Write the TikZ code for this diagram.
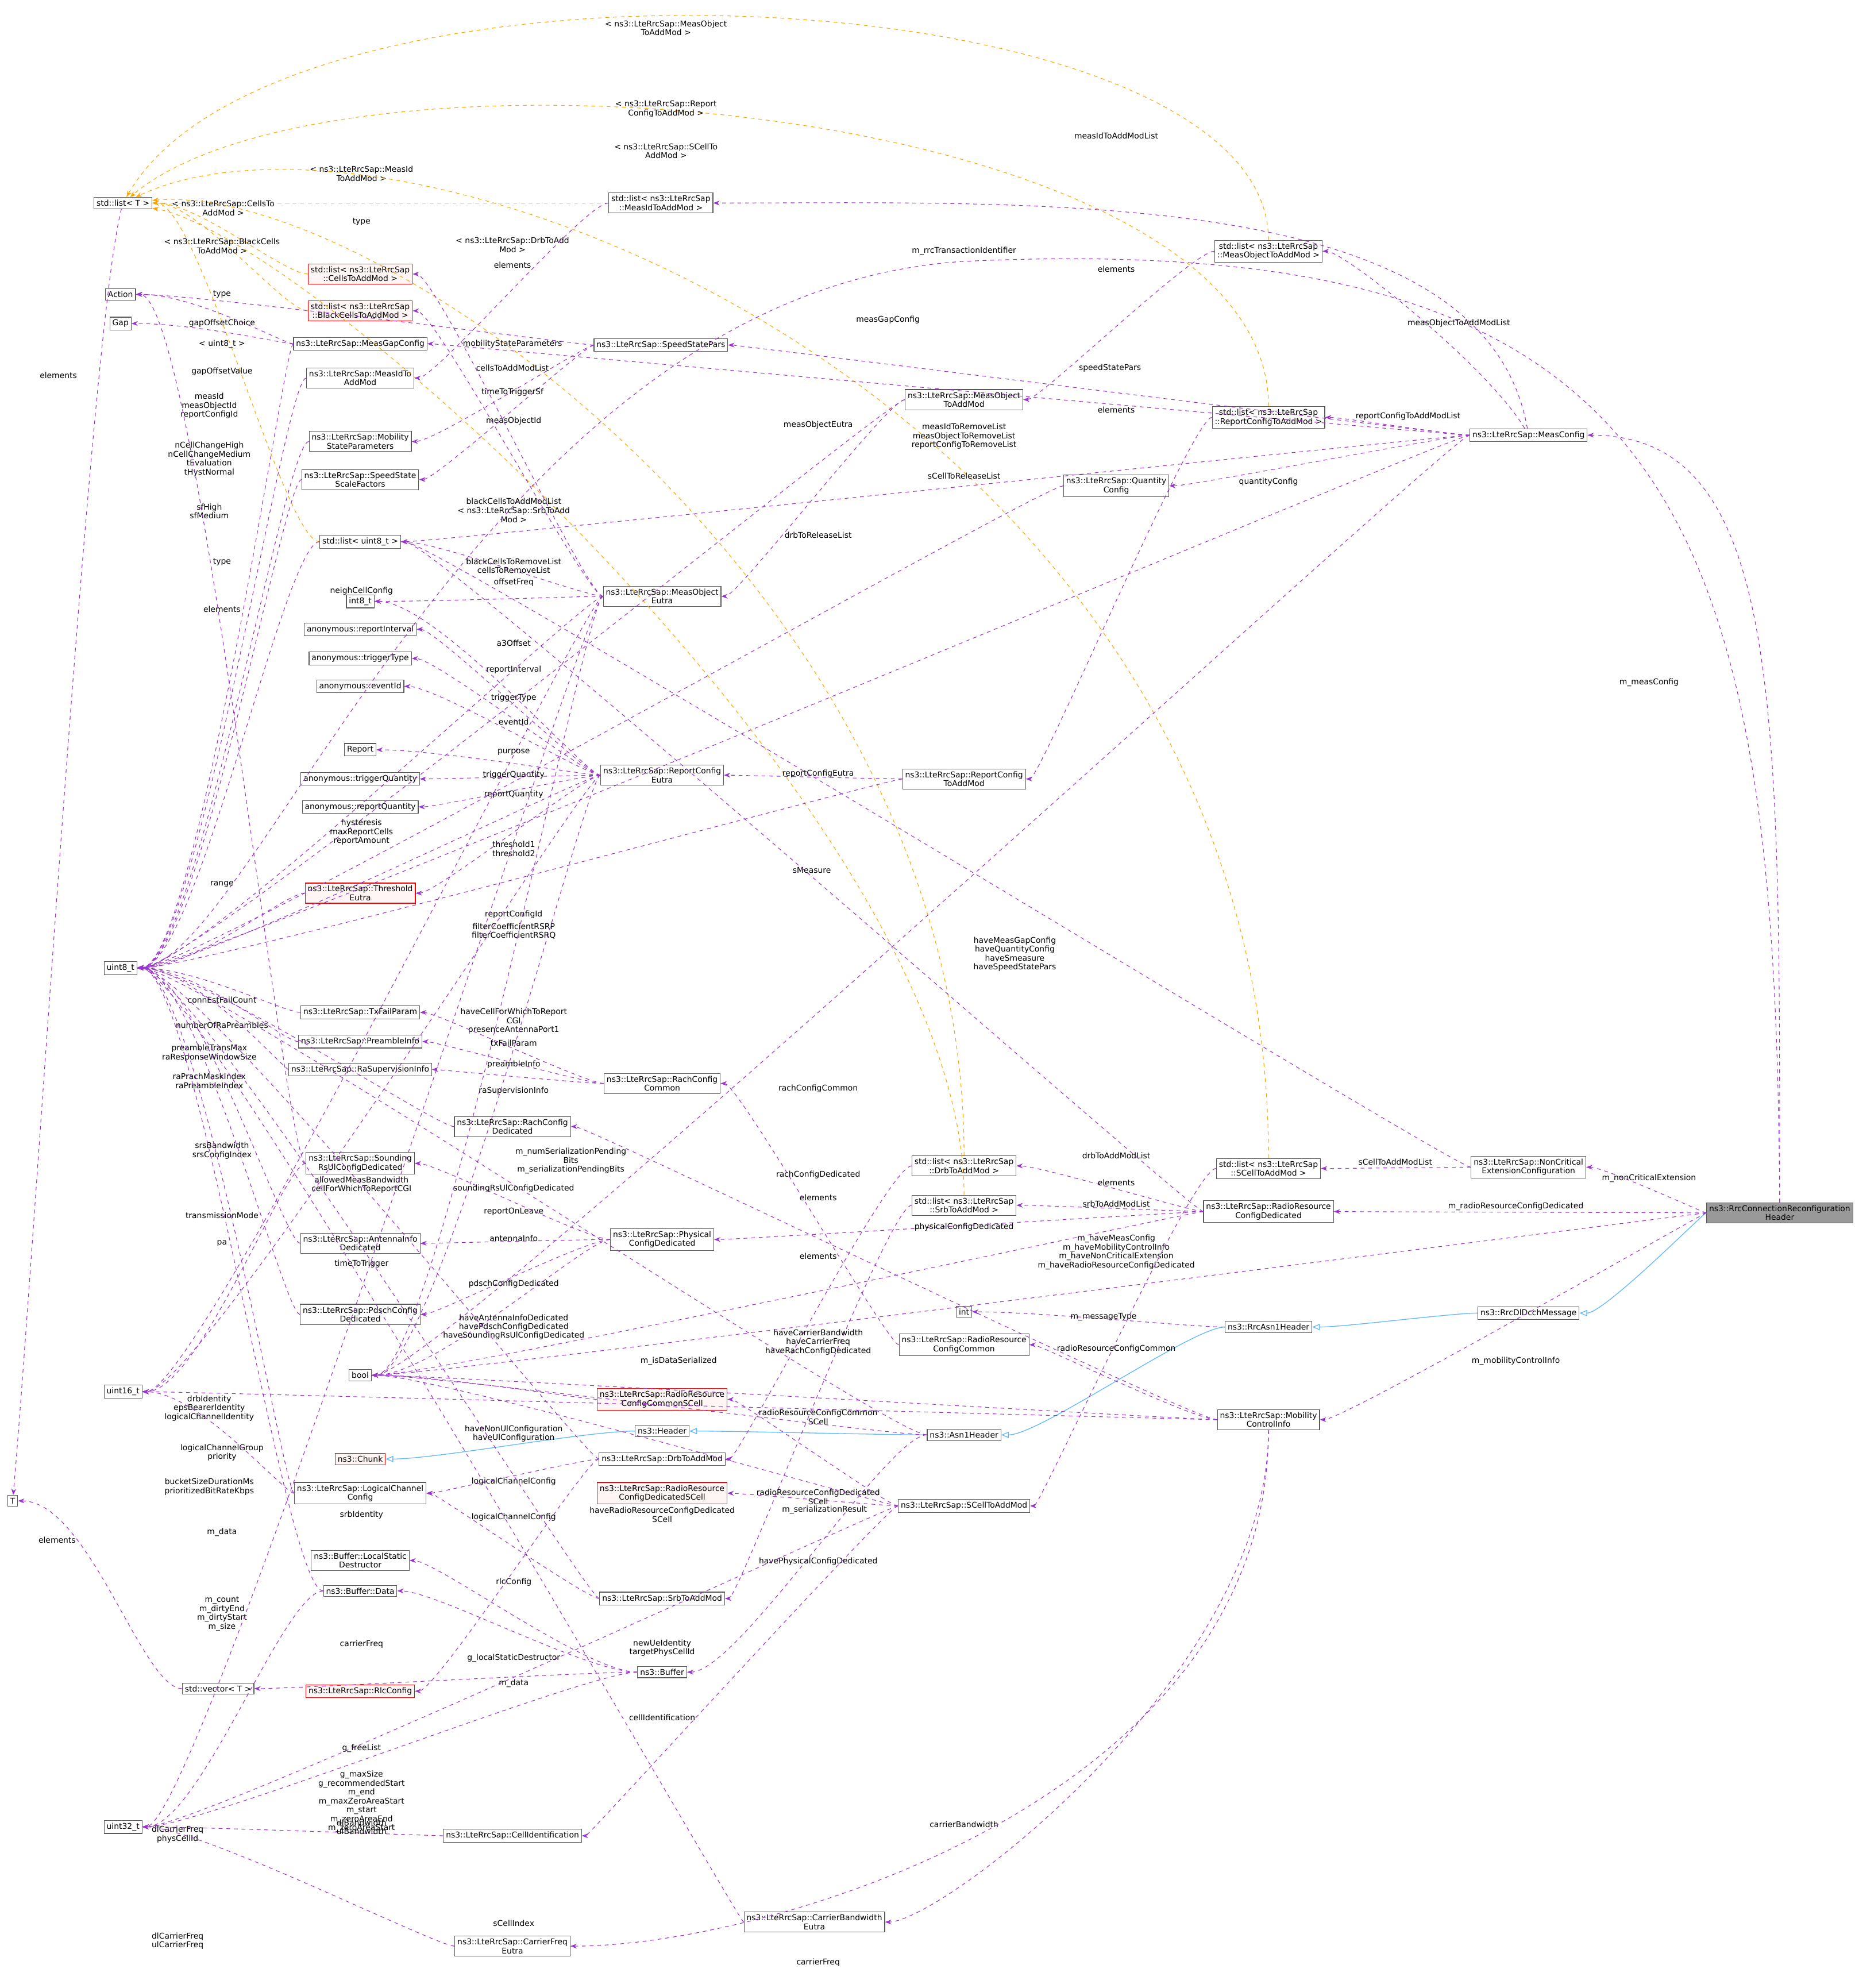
\documentclass[tikz,border=0pt]{standalone}
\usepackage{fontspec}
\setmainfont{DejaVu Sans}
\usetikzlibrary{arrows.meta}
\definecolor{pu}{HTML}{9A32CD}
\definecolor{og}{HTML}{FFA500}
\definecolor{bl}{HTML}{63B8FF}
\tikzset{
 box/.style={draw=black!65,fill=white,inner sep=2pt,align=center,font=\fontsize{6.3}{7}\selectfont,line width=0.5pt},
 rbox/.style={box,draw=red,fill=red!4},
 gbox/.style={box,fill=black!40},
 hv/.style={to path={.. controls +(180:60) and +(0:60) .. (\tikztotarget) \tikztonodes}},
 cv/.style n args={2}{to path={.. controls +(#1) and +(#2) .. (\tikztotarget) \tikztonodes}},
 dep/.style={draw=pu,dashed,line width=0.5pt,-{Stealth[length=5pt]},hv},
 tpl/.style={draw=og,dashed,line width=0.5pt,-{Stealth[length=5pt]},hv},
 inh/.style={draw=bl,line width=0.6pt,-{Triangle[open,length=6pt]},hv},
 lb/.style={font=\fontsize{6.3}{7}\selectfont,align=center,inner sep=0pt}
}
\begin{document}
\begin{tikzpicture}[x=1pt,y=-1pt]
\useasboundingbox (0,0) rectangle (1462,1567);
% column left
\node[box] (listT) at (97,160) {std::list< T >};
\node[box] (Action) at (95,232) {Action};
\node[box] (Gap) at (95,255) {Gap};
\node[box] (u8) at (95,763) {uint8\_t};
\node[box] (u16) at (97,1097) {uint16\_t};
\node[box] (T) at (10,1183) {T};
\node[box] (u32) at (97,1440) {uint32\_t};
% column 284
\node[rbox] (cells) at (284,216) {std::list< ns3::LteRrcSap\\::CellsToAddMod >};
\node[rbox] (black) at (284,245) {std::list< ns3::LteRrcSap\\::BlackCellsToAddMod >};
\node[box] (mgc) at (284,271) {ns3::LteRrcSap::MeasGapConfig};
\node[box] (midam) at (284,298) {ns3::LteRrcSap::MeasIdTo\\AddMod};
\node[box] (msp) at (284,348) {ns3::LteRrcSap::Mobility\\StateParameters};
\node[box] (sssf) at (284,378) {ns3::LteRrcSap::SpeedState\\ScaleFactors};
\node[box] (lu8) at (284,427) {std::list< uint8\_t >};
\node[box] (i8) at (284,474) {int8\_t};
\node[box] (ari) at (284,496) {anonymous::reportInterval};
\node[box] (att) at (284,519) {anonymous::triggerType};
\node[box] (aei) at (284,541) {anonymous::eventId};
\node[box] (rep) at (284,591) {Report};
\node[box] (atq) at (284,614) {anonymous::triggerQuantity};
\node[box] (arq) at (284,636) {anonymous::reportQuantity};
\node[rbox] (the) at (284,704) {ns3::LteRrcSap::Threshold\\Eutra};
\node[box] (txf) at (284,798) {ns3::LteRrcSap::TxFailParam};
\node[box] (pri) at (284,821) {ns3::LteRrcSap::PreambleInfo};
\node[box] (rsi) at (284,843) {ns3::LteRrcSap::RaSupervisionInfo};
\node[box] (snd) at (284,917) {ns3::LteRrcSap::Sounding\\RsUlConfigDedicated};
\node[box] (ant) at (284,980) {ns3::LteRrcSap::AntennaInfo\\Dedicated};
\node[box] (pds) at (284,1036) {ns3::LteRrcSap::PdschConfig\\Dedicated};
\node[box] (bool) at (284,1084) {bool};
\node[rbox] (chunk) at (284,1150) {ns3::Chunk};
\node[box] (lcc) at (284,1177) {ns3::LteRrcSap::LogicalChannel\\Config};
\node[box] (lsd) at (284,1230) {ns3::Buffer::LocalStatic\\Destructor};
\node[box] (bdata) at (284,1254) {ns3::Buffer::Data};
\node[box] (vecT) at (172,1331) {std::vector< T >};
\node[rbox] (rlc) at (284,1333) {ns3::LteRrcSap::RlcConfig};
% column 404/522
\node[box] (rcd) at (404,888) {ns3::LteRrcSap::RachConfig\\Dedicated};
\node[box] (ssp) at (521,272) {ns3::LteRrcSap::SpeedStatePars};
\node[box] (lmid) at (521,160) {std::list< ns3::LteRrcSap\\::MeasIdToAddMod >};
\node[box] (moe) at (522,470) {ns3::LteRrcSap::MeasObject\\Eutra};
\node[box] (rce) at (522,611) {ns3::LteRrcSap::ReportConfig\\Eutra};
\node[box] (rcc) at (522,854) {ns3::LteRrcSap::RachConfig\\Common};
\node[box] (pcd) at (522,977) {ns3::LteRrcSap::Physical\\ConfigDedicated};
\node[rbox] (rrcs) at (522,1103) {ns3::LteRrcSap::RadioResource\\ConfigCommonSCell};
\node[box] (hdr) at (522,1128) {ns3::Header};
\node[box] (drb) at (522,1150) {ns3::LteRrcSap::DrbToAddMod};
\node[rbox] (rrds) at (522,1177) {ns3::LteRrcSap::RadioResource\\ConfigDedicatedSCell};
\node[box] (srb) at (522,1260) {ns3::LteRrcSap::SrbToAddMod};
\node[box] (buf) at (522,1318) {ns3::Buffer};
\node[box] (cid) at (404,1447) {ns3::LteRrcSap::CellIdentification};
\node[box] (cfe) at (404,1534) {ns3::LteRrcSap::CarrierFreq\\Eutra};
% column 760
\node[box] (motam) at (760,315) {ns3::LteRrcSap::MeasObject\\ToAddMod};
\node[box] (rctam) at (760,614) {ns3::LteRrcSap::ReportConfig\\ToAddMod};
\node[box] (ldrb) at (760,919) {std::list< ns3::LteRrcSap\\::DrbToAddMod >};
\node[box] (lsrb) at (760,950) {std::list< ns3::LteRrcSap\\::SrbToAddMod >};
\node[box] (int) at (760,1034) {int};
\node[box] (rrcc) at (760,1060) {ns3::LteRrcSap::RadioResource\\ConfigCommon};
\node[box] (asn) at (760,1131) {ns3::Asn1Header};
\node[box] (scell) at (760,1187) {ns3::LteRrcSap::SCellToAddMod};
\node[box] (cbe) at (642,1515) {ns3::LteRrcSap::CarrierBandwidth\\Eutra};
% column 1000
\node[box] (lmo) at (1000,198) {std::list< ns3::LteRrcSap\\::MeasObjectToAddMod >};
\node[box] (lrc) at (1000,329) {std::list< ns3::LteRrcSap\\::ReportConfigToAddMod >};
\node[box] (qc) at (880,383) {ns3::LteRrcSap::Quantity\\Config};
\node[box] (lsc) at (1000,921) {std::list< ns3::LteRrcSap\\::SCellToAddMod >};
\node[box] (rrcd) at (1000,955) {ns3::LteRrcSap::RadioResource\\ConfigDedicated};
\node[box] (rasn) at (1000,1046) {ns3::RrcAsn1Header};
\node[box] (mci) at (1000,1119) {ns3::LteRrcSap::Mobility\\ControlInfo};
% column 1205
\node[box] (mc) at (1205,343) {ns3::LteRrcSap::MeasConfig};
\node[box] (nce) at (1205,920) {ns3::LteRrcSap::NonCritical\\ExtensionConfiguration};
\node[box] (dcch) at (1205,1035) {ns3::RrcDlDcchMessage};
\node[gbox] (top) at (1403,956) {ns3::RrcConnectionReconfiguration\\Header};
\coordinate (rti) at (760,206);

% inheritance
\draw[inh] (top) to (dcch);
\draw[inh] (dcch) to (rasn);
\draw[inh] (rasn) to (asn);
\draw[inh] (asn) to (hdr);
\draw[inh] (hdr) to (chunk);

% templates
\draw[tpl] (cells) to (listT); \node[lb] at (176,164) {< ns3::LteRrcSap::CellsTo\\AddMod >};
\draw[tpl] (black) to (listT); \node[lb] at (175,194) {< ns3::LteRrcSap::BlackCells\\ToAddMod >};
\draw[tpl] (lmid) to (listT); \node[lb] at (285,137) {< ns3::LteRrcSap::MeasId\\ToAddMod >};
\draw[tpl,cv={-90:220}{-60:250}] (lmo) to (listT); \node[lb] at (525,22) {< ns3::LteRrcSap::MeasObject\\ToAddMod >};
\draw[tpl,cv={-90:250}{-40:220}] (lrc) to (listT); \node[lb] at (525,86) {< ns3::LteRrcSap::Report\\ConfigToAddMod >};
\draw[tpl,cv={-90:600}{-25:250}] (lsc) to (listT); \node[lb] at (525,119) {< ns3::LteRrcSap::SCellTo\\AddMod >};
\draw[tpl,cv={-90:450}{-5:200}] (ldrb) to (listT); \node[lb] at (404,193) {< ns3::LteRrcSap::DrbToAdd\\Mod >};
\draw[tpl,cv={-90:300}{10:150}] (lsrb) to (listT); \node[lb] at (405,406) {< ns3::LteRrcSap::SrbToAdd\\Mod >};
\draw[tpl] (lu8) to (listT); \node[lb] at (175,271) {< uint8\_t >};

% header edges
\draw[dep,cv={-90:400}{0:200}] (top) to (mc); \node[lb] at (1300,538) {m\_measConfig};
\draw[dep] (top) to (nce); \node[lb] at (1300,929) {m\_nonCriticalExtension};
\draw[dep] (top) to (rrcd); \node[lb] at (1195,951) {m\_radioResourceConfigDedicated};
\draw[dep] (top) to (mci); \node[lb] at (1195,1073) {m\_mobilityControlInfo};
\draw[dep] (top) to (bool); \node[lb] at (880,987) {m\_haveMeasConfig\\m\_haveMobilityControlInfo\\m\_haveNonCriticalExtension\\m\_haveRadioResourceConfigDedicated};
\draw[dep] (top) .. controls (1400,400) and (1320,180) .. (rti) .. controls (380,230) and (200,760) .. (u8); \node[lb] at (760,198) {m\_rrcTransactionIdentifier};
\draw[dep] (rasn) to (int); \node[lb] at (870,1038) {m\_messageType};
\draw[dep] (asn) to (bool); \node[lb] at (535,1073) {m\_isDataSerialized};
\draw[dep] (asn) to (buf); \node[lb] at (650,1190) {m\_serializationResult};
\draw[dep] (asn) to (u8); \node[lb] at (450,915) {m\_numSerializationPending\\Bits\\m\_serializationPendingBits};
% measconfig
\draw[dep,cv={-100:200}{0:300}] (mc) to (lmid); \node[lb] at (880,107) {measIdToAddModList};
\draw[dep,cv={-120:60}{0:60}] (mc) to (lmo); \node[lb] at (1150,255) {measObjectToAddModList};
\draw[dep] (mc) to (lrc); \node[lb] at (1110,328) {reportConfigToAddModList};
\draw[dep] (mc) to (qc); \node[lb] at (1000,380) {quantityConfig};
\draw[dep] (mc) to (mgc); \node[lb] at (700,252) {measGapConfig};
\draw[dep] (mc) to (ssp); \node[lb] at (875,290) {speedStatePars};
\draw[dep] (mc) to (lu8); \node[lb] at (760,344) {measIdToRemoveList\\measObjectToRemoveList\\reportConfigToRemoveList};
\draw[dep] (mc) to (u8); \node[lb] at (640,686) {sMeasure};
\draw[dep] (mc) to (bool); \node[lb] at (800,752) {haveMeasGapConfig\\haveQuantityConfig\\haveSmeasure\\haveSpeedStatePars};
\draw[dep] (lmid) to (midam); \node[lb] at (404,209) {elements};
\draw[dep] (lmo) to (motam); \node[lb] at (880,212) {elements};
\draw[dep] (lrc) to (rctam); \node[lb] at (880,323) {elements};
\draw[dep] (motam) to (moe); \node[lb] at (645,335) {measObjectEutra};
\draw[dep] (motam) to (u8); \node[lb] at (405,332) {measObjectId};
\draw[dep] (rctam) to (rce); \node[lb] at (645,610) {reportConfigEutra};
\draw[dep] (rctam) to (u8); \node[lb] at (405,721) {reportConfigId};
\draw[dep] (midam) to (u8); \node[lb] at (165,320) {measId\\measObjectId\\reportConfigId};
\draw[dep] (mgc) to (Action); \node[lb] at (175,232) {type};
\draw[dep] (mgc) to (Gap); \node[lb] at (175,255) {gapOffsetChoice};
\draw[dep] (mgc) to (u8); \node[lb] at (175,293) {gapOffsetValue};
\draw[dep] (ssp) to (Action); \node[lb] at (285,175) {type};
\draw[dep] (ssp) to (msp); \node[lb] at (404,271) {mobilityStateParameters};
\draw[dep] (ssp) to (sssf); \node[lb] at (404,309) {timeToTriggerSf};
\draw[dep] (msp) to (u8); \node[lb] at (165,362) {nCellChangeHigh\\nCellChangeMedium\\tEvaluation\\tHystNormal};
\draw[dep] (sssf) to (u8); \node[lb] at (165,403) {sfHigh\\sfMedium};
% measobject eutra
\draw[dep] (moe) to (cells); \node[lb] at (404,290) {cellsToAddModList};
\draw[dep] (moe) to (black); \node[lb] at (405,395) {blackCellsToAddModList};
\draw[dep] (moe) to (lu8); \node[lb] at (405,446) {blackCellsToRemoveList\\cellsToRemoveList};
\draw[dep] (moe) to (i8); \node[lb] at (405,459) {offsetFreq};
\draw[dep] (moe) to (u8); \node[lb] at (285,466) {neighCellConfig};
\draw[dep] (moe) to (bool); \node[lb] at (405,805) {haveCellForWhichToReport\\CGI\\presenceAntennaPort1};
\draw[dep] (moe) to (u16); \node[lb] at (285,934) {allowedMeasBandwidth\\cellForWhichToReportCGI};
\draw[dep] (moe) to (u32); \node[lb] at (285,1296) {carrierFreq};
% reportconfig eutra
\draw[dep] (rce) to (i8); \node[lb] at (405,507) {a3Offset};
\draw[dep] (rce) to (ari); \node[lb] at (405,528) {reportInterval};
\draw[dep] (rce) to (att); \node[lb] at (405,550) {triggerType};
\draw[dep] (rce) to (aei); \node[lb] at (405,569) {eventId};
\draw[dep] (rce) to (rep); \node[lb] at (405,593) {purpose};
\draw[dep] (rce) to (atq); \node[lb] at (405,611) {triggerQuantity};
\draw[dep] (rce) to (arq); \node[lb] at (405,626) {reportQuantity};
\draw[dep] (rce) to (u8); \node[lb] at (285,656) {hysteresis\\maxReportCells\\reportAmount};
\draw[dep] (rce) to (the); \node[lb] at (405,669) {threshold1\\threshold2};
\draw[dep] (rce) to (bool); \node[lb] at (405,955) {reportOnLeave};
\draw[dep] (rce) to (u16); \node[lb] at (285,996) {timeToTrigger};
\draw[dep] (the) to (u8); \node[lb] at (175,697) {range};
\draw[dep] (qc) to (u8); \node[lb] at (405,734) {filterCoefficientRSRP\\filterCoefficientRSRQ};
\draw[dep] (lu8) to (u8); \node[lb] at (175,480) {elements};
\draw[dep,cv={105:100}{-85:200}] (listT) to (T); \node[lb] at (46,296) {elements};
\draw[dep] (vecT) to (T); \node[lb] at (45,1214) {elements};
% radio resource config dedicated
\draw[dep] (rrcd) to (ldrb); \node[lb] at (880,911) {drbToAddModList};
\draw[dep] (rrcd) to (lsrb); \node[lb] at (880,949) {srbToAddModList};
\draw[dep] (rrcd) to (pcd); \node[lb] at (760,967) {physicalConfigDedicated};
\draw[dep] (rrcd) to (lu8); \node[lb] at (645,422) {drbToReleaseList};
\draw[dep] (rrcd) to (bool); \node[lb] at (645,1231) {havePhysicalConfigDedicated};
\draw[dep] (ldrb) to (drb); \node[lb] at (645,944) {elements};
\draw[dep] (lsrb) to (srb); \node[lb] at (645,990) {elements};
\draw[dep] (nce) to (lsc); \node[lb] at (1100,916) {sCellToAddModList};
\draw[dep] (nce) to (lu8); \node[lb] at (760,375) {sCellToReleaseList};
\draw[dep] (lsc) to (scell); \node[lb] at (880,932) {elements};
\draw[dep] (scell) to (rrcs); \node[lb] at (645,1117) {radioResourceConfigCommon\\SCell};
\draw[dep] (scell) to (rrds); \node[lb] at (645,1180) {radioResourceConfigDedicated\\SCell};
\draw[dep] (scell) to (cid); \node[lb] at (522,1354) {cellIdentification};
\draw[dep] (scell) to (bool); \node[lb] at (522,1194) {haveRadioResourceConfigDedicated\\SCell};
\draw[dep] (scell) to (u32); \node[lb] at (405,1516) {sCellIndex};
\draw[dep] (rrcs) to (bool); \node[lb] at (405,1130) {haveNonUlConfiguration\\haveUlConfiguration};
% physical config
\draw[dep] (pcd) to (snd); \node[lb] at (405,937) {soundingRsUlConfigDedicated};
\draw[dep] (pcd) to (ant); \node[lb] at (405,976) {antennaInfo};
\draw[dep] (pcd) to (pds); \node[lb] at (405,1012) {pdschConfigDedicated};
\draw[dep] (pcd) to (bool); \node[lb] at (405,1046) {haveAntennaInfoDedicated\\havePdschConfigDedicated\\haveSoundingRsUlConfigDedicated};
\draw[dep] (rcc) to (txf); \node[lb] at (405,822) {txFailParam};
\draw[dep] (rcc) to (pri); \node[lb] at (405,839) {preambleInfo};
\draw[dep] (rcc) to (rsi); \node[lb] at (405,860) {raSupervisionInfo};
\draw[dep] (txf) to (u8); \node[lb] at (175,788) {connEstFailCount};
\draw[dep] (pri) to (u8); \node[lb] at (175,808) {numberOfRaPreambles};
\draw[dep] (rsi) to (u8); \node[lb] at (165,830) {preambleTransMax\\raResponseWindowSize};
\draw[dep] (rcd) to (u8); \node[lb] at (165,852) {raPrachMaskIndex\\raPreambleIndex};
\draw[dep] (snd) to (u16); \node[lb] at (175,907) {srsBandwidth\\srsConfigIndex};
\draw[dep] (snd) to (Action); \node[lb] at (175,443) {type};
\draw[dep] (ant) to (u8); \node[lb] at (175,958) {transmissionMode};
\draw[dep] (pds) to (u8); \node[lb] at (175,980) {pa};
% mobility control
\draw[dep] (rrcc) to (rcc); \node[lb] at (645,858) {rachConfigCommon};
\draw[dep] (mci) to (rrcc); \node[lb] at (880,1063) {radioResourceConfigCommon};
\draw[dep] (mci) to (rcd); \node[lb] at (645,926) {rachConfigDedicated};
\draw[dep,cv={90:200}{0:100}] (mci) to (cbe); \node[lb] at (760,1438) {carrierBandwidth};
\draw[dep,cv={90:300}{0:200}] (mci) to (cfe); \node[lb] at (645,1547) {carrierFreq};
\draw[dep] (mci) to (bool); \node[lb] at (645,1058) {haveCarrierBandwidth\\haveCarrierFreq\\haveRachConfigDedicated};
\draw[dep] (mci) to (u16); \node[lb] at (522,1299) {newUeIdentity\\targetPhysCellId};
% drb/srb
\draw[dep] (drb) to (lcc); \node[lb] at (405,1168) {logicalChannelConfig};
\draw[dep] (drb) to (u8); \node[lb] at (165,1110) {drbIdentity\\epsBearerIdentity\\logicalChannelIdentity};
\draw[dep] (drb) to (rlc); \node[lb] at (405,1247) {rlcConfig};
\draw[dep] (srb) to (lcc); \node[lb] at (405,1196) {logicalChannelConfig};
\draw[dep] (srb) to (u8); \node[lb] at (285,1194) {srbIdentity};
\draw[dep] (lcc) to (u8); \node[lb] at (175,1145) {logicalChannelGroup\\priority};
\draw[dep] (lcc) to (u16); \node[lb] at (165,1172) {bucketSizeDurationMs\\prioritizedBitRateKbps};
% buffer
\draw[dep] (buf) to (lsd); \node[lb] at (405,1307) {g\_localStaticDestructor};
\draw[dep] (buf) to (bdata); \node[lb] at (405,1327) {m\_data};
\draw[dep] (buf) to (vecT); \node[lb] at (285,1378) {g\_freeList};
\draw[dep] (buf) to (u32); \node[lb] at (285,1420) {g\_maxSize\\g\_recommendedStart\\m\_end\\m\_maxZeroAreaStart\\m\_start\\m\_zeroAreaEnd\\m\_zeroAreaStart};
\draw[dep] (bdata) to (u8); \node[lb] at (175,1208) {m\_data};
\draw[dep] (bdata) to (u32); \node[lb] at (175,1272) {m\_count\\m\_dirtyEnd\\m\_dirtyStart\\m\_size};
\draw[dep] (cid) to (u32); \node[lb] at (140,1446) {dlCarrierFreq\\physCellId};
\draw[dep] (cbe) to (u8); \node[lb] at (285,1440) {dlBandwidth\\ulBandwidth};
\draw[dep] (cfe) to (u32); \node[lb] at (140,1530) {dlCarrierFreq\\ulCarrierFreq};
\end{tikzpicture}
\end{document}
